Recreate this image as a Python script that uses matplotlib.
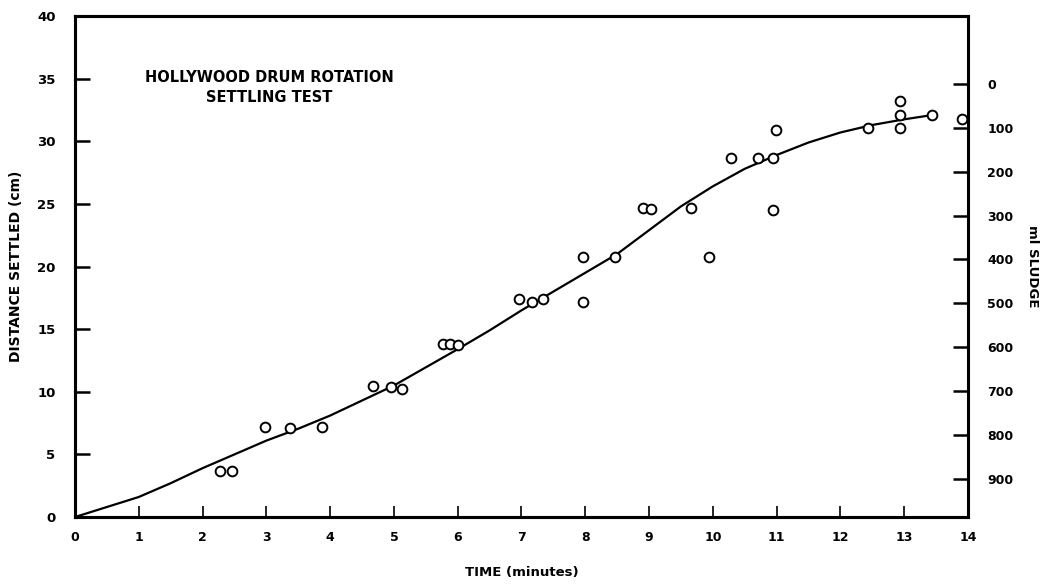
import matplotlib
matplotlib.use("Agg")
import matplotlib.pyplot as plt

plt.rcParams['font.family'] = ['DejaVu Sans']
plt.rcParams['font.weight'] = 'bold'
plt.rcParams['axes.labelweight'] = 'bold'

# measured points (time in minutes, distance settled in cm)
time_pts = [2.27, 2.46, 2.98, 3.37, 3.87, 4.67, 4.95, 5.13, 5.77, 5.88, 6.0,
            6.96, 7.16, 7.34, 7.96, 7.96, 8.47, 8.9, 9.03, 9.66, 9.94,
            10.28, 10.71, 10.94, 10.94, 10.99, 12.43, 12.93, 12.93, 12.93, 13.43, 13.9]
dist_pts = [3.7, 3.7, 7.2, 7.1, 7.2, 10.45, 10.4, 10.2, 13.8, 13.8, 13.7,
            17.4, 17.2, 17.4, 20.76, 17.2, 20.76, 24.7, 24.6, 24.7, 20.76,
            28.66, 28.66, 28.66, 24.5, 30.9, 31.06, 33.2, 32.1, 31.06, 32.1, 31.8]

# hand drawn fitted curve
curve_t = [0, 0.5, 1.0, 1.5, 2.0, 2.5, 3.0, 3.5, 4.0, 4.5, 5.0, 5.5, 6.0, 6.5,
           7.0, 7.5, 8.0, 8.5, 9.0, 9.5, 10.0, 10.5, 11.0, 11.5, 12.0, 12.5, 13.0, 13.45]
curve_d = [0, 0.8, 1.6, 2.7, 3.9, 5.0, 6.1, 7.05, 8.1, 9.3, 10.5, 11.95, 13.4, 14.9,
           16.5, 18.0, 19.5, 21.0, 22.9, 24.8, 26.4, 27.8, 28.9, 29.9, 30.7, 31.3, 31.75, 32.1]

x_ticks = list(range(0, 15))
y_ticks = [0, 5, 10, 15, 20, 25, 30, 35, 40]
ml_ticks = [0, 100, 200, 300, 400, 500, 600, 700, 800, 900]
# ml scale: 0 ml at 34.57 cm, 100 ml = 3.5 cm
ml_zero_cm = 34.57
cm_per_ml = 0.035

fig = plt.figure(figsize=(10.46, 5.86), dpi=100)
ax = fig.add_axes([0.0717, 0.1177, 0.8537, 0.855])

ax.plot(curve_t, curve_d, color='black', lw=1.6, solid_joinstyle='round')
ax.plot(time_pts, dist_pts, 'o', mfc='white', mec='black', ms=7, mew=1.4)

ax.set_xlim(0, 14)
ax.set_ylim(0, 40)
ax.set_xticks(x_ticks)
ax.set_yticks(y_ticks)
ax.tick_params(axis='x', direction='in', length=8, width=1.2, pad=10, labelsize=9)
ax.tick_params(axis='y', direction='in', length=11, width=1.8, pad=14, labelsize=9.5)
for s in ax.spines.values():
    s.set_linewidth(2.2)
ax.spines['right'].set_visible(False)

ax.set_xlabel("TIME (minutes)", fontsize=9.5, labelpad=16)
ax.set_ylabel("DISTANCE SETTLED (cm)", fontsize=10, labelpad=10)

ax.text(3.04, 34.3, "HOLLYWOOD DRUM ROTATION\nSETTLING TEST", ha='center', va='center',
        fontsize=10.5, linespacing=1.4)

ax2 = ax.twinx()
ax2.set_ylim(ml_zero_cm / cm_per_ml, (ml_zero_cm - 40) / cm_per_ml)
ax2.set_yticks(ml_ticks)
ax2.tick_params(axis='y', direction='in', length=11, width=1.8, pad=14, labelsize=9)
for t in ax2.get_yticklabels():
    t.set_fontweight('bold')
for s in ax2.spines.values():
    s.set_linewidth(2.2)
ax2.set_ylabel("ml SLUDGE", fontsize=9.5, rotation=270, labelpad=18)

fig.savefig("out.png", dpi=100)
